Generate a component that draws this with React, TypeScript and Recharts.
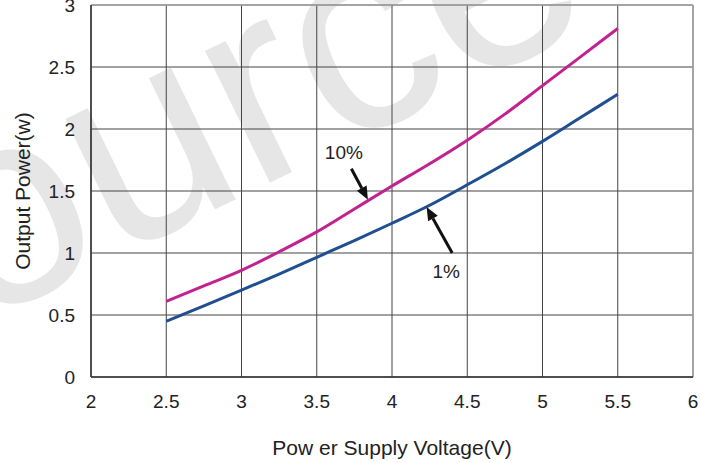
import { LineChart, Line, XAxis, YAxis, CartesianGrid, ReferenceLine, ReferenceDot, Label } from 'recharts'

// Output power vs supply voltage, two THD+N levels
const voltage = [2.5, 2.75, 3, 3.25, 3.5, 3.75, 4, 4.25, 4.5, 4.75, 5, 5.25, 5.5]
const thd10 = [0.61, 0.735, 0.86, 1.01, 1.17, 1.355, 1.54, 1.72, 1.91, 2.12, 2.35, 2.58, 2.81]
const thd1 = [0.45, 0.573, 0.7, 0.83, 0.965, 1.1, 1.24, 1.385, 1.55, 1.72, 1.9, 2.09, 2.28]

const xTicks = [2, 2.5, 3, 3.5, 4, 4.5, 5, 5.5, 6]
const yTicks = [0, 0.5, 1, 1.5, 2, 2.5, 3]

// callouts: text anchor, arrow tail, arrow tip (data units)
const callouts = [
  { label: '10%', text: [3.68, 1.81], from: [3.73, 1.68], to: [3.84, 1.43] },
  { label: '1%', text: [4.36, 0.85], from: [4.4, 1.0], to: [4.23, 1.37] },
]

const data = voltage.map((v, i) => ({ v, p10: thd10[i], p1: thd1[i] }))

const FONT = '"Liberation Sans", Arial, sans-serif'
const tickStyle = { fontFamily: FONT, fontSize: 19, fill: '#222' }

const Arrow = (p: any) => {
  const { x1, y1, x2, y2 } = p
  const dx = x2 - x1
  const dy = y2 - y1
  const len = Math.hypot(dx, dy) || 1
  const ux = dx / len
  const uy = dy / len
  const hl = 13
  const hw = 5.5
  const bx = x2 - ux * hl
  const by = y2 - uy * hl
  const pts = `${x2},${y2} ${bx - uy * hw},${by + ux * hw} ${bx + uy * hw},${by - ux * hw}`
  return (
    <g>
      <line x1={x1} y1={y1} x2={bx} y2={by} stroke="#111" strokeWidth={3} />
      <polygon points={pts} fill="#111" />
    </g>
  )
}

const calloutText = (label: string) => (p: any) => (
  <text x={p.cx} y={p.cy} textAnchor="middle" dominantBaseline="central" fontFamily={FONT} fontSize={19} fill="#222">
    {label}
  </text>
)

export default function App() {
  return (
    <div style={{ position: 'absolute', left: 0, top: 0, width: 701, height: 463, background: '#fff' }}>
      <svg width={701} height={463} style={{ position: 'absolute', left: 0, top: 0 }}>
        <text
          x={-192}
          y={408}
          transform="rotate(-26 -192 408)"
          fontFamily={FONT}
          fontSize={278}
          fill="#e6e6e6"
        >
          Source
        </text>
        <text x={80} y={-6} fontFamily={FONT} fontSize={15} fill="#333">
          V<tspan dy={5} fontSize={11}>IN</tspan>
          <tspan dy={-5}> = 1Vpp, R</tspan>
          <tspan dy={5} fontSize={11}>L</tspan>
          <tspan dy={-5}> = 4Ω, f = 1kHz, (THD+N)</tspan>
        </text>
      </svg>
      <div style={{ position: 'relative' }}>
        <LineChart width={701} height={463} data={data} margin={{ top: 5, right: 8, bottom: 0, left: 0 }}>
          <CartesianGrid stroke="#444" strokeWidth={1} />
          <XAxis
            type="number"
            dataKey="v"
            domain={[2, 6]}
            ticks={xTicks}
            height={86}
            tickLine={false}
            tickSize={0}
            tickMargin={18}
            axisLine={{ stroke: '#333', strokeWidth: 1.5 }}
            tick={tickStyle}
            interval={0}
          >
            <Label
              content={({ viewBox }: any) => (
                <text
                  x={viewBox.x + viewBox.width / 2}
                  y={viewBox.y + 78}
                  textAnchor="middle"
                  fontFamily={FONT}
                  fontSize={21}
                  fill="#222"
                >
                  Pow er Supply Voltage(V)
                </text>
              )}
            />
          </XAxis>
          <YAxis
            type="number"
            domain={[0, 3]}
            ticks={yTicks}
            width={91}
            tickLine={false}
            tickSize={0}
            tickMargin={16}
            axisLine={{ stroke: '#333', strokeWidth: 1.5 }}
            tick={tickStyle}
            interval={0}
          >
            <Label
              content={({ viewBox }: any) => {
                const cx = viewBox.x + 22
                const cy = viewBox.y + viewBox.height / 2
                return (
                  <text
                    x={cx}
                    y={cy}
                    transform={`rotate(-90 ${cx} ${cy})`}
                    textAnchor="middle"
                    dominantBaseline="central"
                    fontFamily={FONT}
                    fontSize={21}
                    fill="#222"
                  >
                    Output Power(w)
                  </text>
                )
              }}
            />
          </YAxis>
          <ReferenceLine y={3} stroke="#a6a6a6" strokeWidth={1.5} />
          <ReferenceLine x={6} stroke="#a6a6a6" strokeWidth={1.5} />
          <Line type="monotone" dataKey="p10" stroke="#c2228f" strokeWidth={3} dot={false} isAnimationActive={false} />
          <Line type="monotone" dataKey="p1" stroke="#1f4f8f" strokeWidth={3} dot={false} isAnimationActive={false} />
          {callouts.map((c) => (
            <ReferenceLine
              key={c.label + '-arrow'}
              segment={[
                { x: c.from[0], y: c.from[1] },
                { x: c.to[0], y: c.to[1] },
              ]}
              shape={Arrow}
            />
          ))}
          {callouts.map((c) => (
            <ReferenceDot key={c.label} x={c.text[0]} y={c.text[1]} r={0} shape={calloutText(c.label)} />
          ))}
        </LineChart>
      </div>
    </div>
  )
}
